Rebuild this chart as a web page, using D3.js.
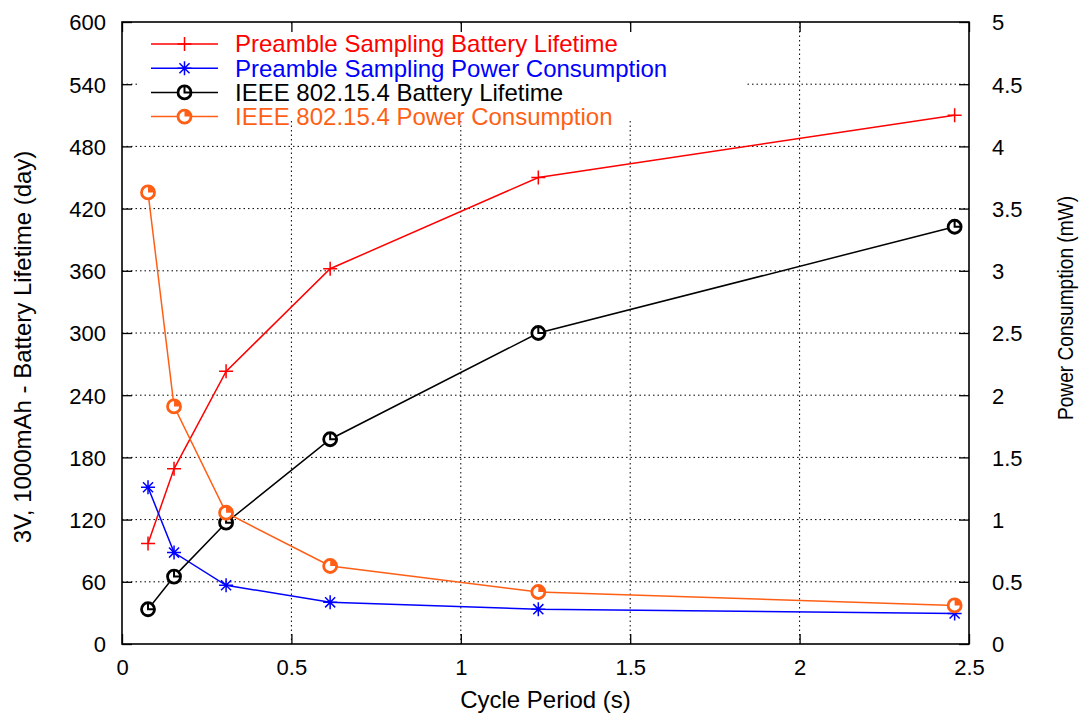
<!DOCTYPE html>
<html><head><meta charset="utf-8">
<script src="https://cdn.jsdelivr.net/npm/d3@7"></script>
<style>
html,body{margin:0;padding:0;background:#fff;}
svg{display:block;font-family:"Liberation Sans",Arial,Helvetica,sans-serif;}
</style></head>
<body>
<svg id="c" width="1081" height="713"></svg>
<script>
// ---- data ----
const cyclePeriod = [0.0768, 0.1536, 0.3072, 0.6144, 1.2288, 2.4576];
const psLifetime  = [97, 169, 263, 362, 450, 510];
const psPower     = [1.26, 0.735, 0.472, 0.335, 0.28, 0.245];
const ieeeLifetime = [33.5, 65, 117, 197.5, 300, 402.5];
const ieeePower    = [3.63, 1.91, 1.055, 0.627, 0.418, 0.31];
const xTicks  = [0, 0.5, 1, 1.5, 2, 2.5];
const yTicks  = [0, 60, 120, 180, 240, 300, 360, 420, 480, 540, 600];
const y2Ticks = [0, 0.5, 1, 1.5, 2, 2.5, 3, 3.5, 4, 4.5, 5];
const seriesNames = ["Preamble Sampling Battery Lifetime", "Preamble Sampling Power Consumption",
                     "IEEE 802.15.4 Battery Lifetime", "IEEE 802.15.4 Power Consumption"];

const L = 122, R = 969, T = 22, B = 644;
const svg = d3.select("#c");
const x = d3.scaleLinear().domain([0, 2.5]).range([L, R]);
const y = d3.scaleLinear().domain([0, 600]).range([B, T]);
const y2 = d3.scaleLinear().domain([0, 5]).range([B, T]);

const RED = "#ff0000", BLUE = "#0000ff", BLACK = "#000000", ORANGE = "#ff5f15";

// grid
const grid = svg.append("g").attr("stroke", "#000").attr("stroke-width", 1).attr("stroke-dasharray", "1.5,3");
xTicks.filter(v => v > 0 && v < 2.5).forEach(v => {
  grid.append("line").attr("x1", x(v)).attr("x2", x(v)).attr("y1", T).attr("y2", B);
});
yTicks.filter(v => v > 0 && v < 600).forEach(v => {
  grid.append("line").attr("x1", L).attr("x2", R).attr("y1", y(v)).attr("y2", y(v));
});

// legend opaque box
svg.append("rect").attr("x", 138).attr("y", 26).attr("width", 607).attr("height", 95).attr("fill", "#fff");

// series
const series = [
  {vals: psLifetime, sc: y, color: RED, marker: "plus"},
  {vals: psPower, sc: y2, color: BLUE, marker: "star"},
  {vals: ieeeLifetime, sc: y, color: BLACK, marker: "circ"},
  {vals: ieeePower, sc: y2, color: ORANGE, marker: "circf"}
];

function drawMarker(g, type, cx, cy, color) {
  const s = 7;
  if (type === "plus") {
    g.append("path").attr("d", `M${cx-s},${cy}H${cx+s}M${cx},${cy-s}V${cy+s}`)
      .attr("stroke", color).attr("stroke-width", 1.5).attr("fill", "none");
  } else if (type === "star") {
    const d = s * 0.72;
    g.append("path").attr("d", `M${cx-s},${cy}H${cx+s}M${cx},${cy-s}V${cy+s}M${cx-d},${cy-d}L${cx+d},${cy+d}M${cx-d},${cy+d}L${cx+d},${cy-d}`)
      .attr("stroke", color).attr("stroke-width", 1.5).attr("fill", "none");
  } else {
    const r = 6.5;
    g.append("circle").attr("cx", cx).attr("cy", cy).attr("r", r)
      .attr("fill", "#fff").attr("stroke", color).attr("stroke-width", 2.8);
    const q = `M${cx},${cy}V${cy-r}A${r},${r} 0 0 1 ${cx+r},${cy}Z`;
    if (type === "circf") {
      g.append("path").attr("d", q).attr("fill", color).attr("stroke", "none");
    } else {
      g.append("path").attr("d", `M${cx},${cy-r}V${cy}H${cx+r}`).attr("fill", "none")
        .attr("stroke", color).attr("stroke-width", 2);
    }
  }
}

const data = svg.append("g");
series.forEach(s => {
  const line = d3.line().x((d, i) => x(cyclePeriod[i])).y(d => s.sc(d));
  data.append("path").datum(s.vals).attr("d", line).attr("fill", "none")
    .attr("stroke", s.color).attr("stroke-width", 1.5);
});
series.forEach(s => {
  s.vals.forEach((v, i) => drawMarker(data, s.marker, x(cyclePeriod[i]), s.sc(v), s.color));
});

// axes
const fs = "22px";
const axB = svg.append("g").attr("transform", `translate(0,${B})`)
  .call(d3.axisBottom(x).tickValues(xTicks).tickSize(-10).tickPadding(15).tickFormat(d3.format("~g")));
const axT = svg.append("g").attr("transform", `translate(0,${T})`)
  .call(d3.axisTop(x).tickValues(xTicks).tickSize(-10).tickFormat(""));
const axL = svg.append("g").attr("transform", `translate(${L},0)`)
  .call(d3.axisLeft(y).tickValues(yTicks).tickSize(-10).tickPadding(16));
const axR = svg.append("g").attr("transform", `translate(${R},0)`)
  .call(d3.axisRight(y2).tickValues(y2Ticks).tickSize(-10).tickPadding(23).tickFormat(d3.format("~g")));
[axB, axT, axL, axR].forEach(a => {
  a.select(".domain").remove();
  a.selectAll(".tick line").attr("stroke", "#000").attr("stroke-width", 1.3);
  a.selectAll("text").attr("font-size", fs).attr("fill", "#000")
    .attr("font-family", '"Liberation Sans",Arial,Helvetica,sans-serif');
});
axL.selectAll("text").attr("dy", "0.36em");
axR.selectAll("text").attr("dy", "0.36em");

// border
svg.append("rect").attr("x", L).attr("y", T).attr("width", R - L).attr("height", B - T)
  .attr("fill", "none").attr("stroke", "#000").attr("stroke-width", 1.6);

// titles
svg.append("text").attr("x", (L + R) / 2).attr("y", 708).attr("text-anchor", "middle")
  .attr("font-size", "24px").text("Cycle Period (s)");
svg.append("text").attr("transform", "translate(31,347) rotate(-90)").attr("text-anchor", "middle")
  .attr("font-size", "24px").text("3V, 1000mAh - Battery Lifetime (day)");
svg.append("text").attr("transform", "translate(1073,308) rotate(-90)").attr("text-anchor", "middle")
  .attr("font-size", "21.5px").attr("textLength", 224).attr("lengthAdjust", "spacingAndGlyphs")
  .text("Power Consumption (mW)");

// legend
const lg = svg.append("g");
series.forEach((s, i) => {
  const ly = 44 + i * 24.2;
  lg.append("line").attr("x1", 151).attr("x2", 218).attr("y1", ly).attr("y2", ly)
    .attr("stroke", s.color).attr("stroke-width", 1.5);
  drawMarker(lg, s.marker, 184.5, ly, s.color);
  lg.append("text").attr("x", 235).attr("y", ly).attr("dy", "0.35em").attr("font-size", "24px")
    .attr("fill", s.color).text(seriesNames[i]);
});
</script>
</body></html>
